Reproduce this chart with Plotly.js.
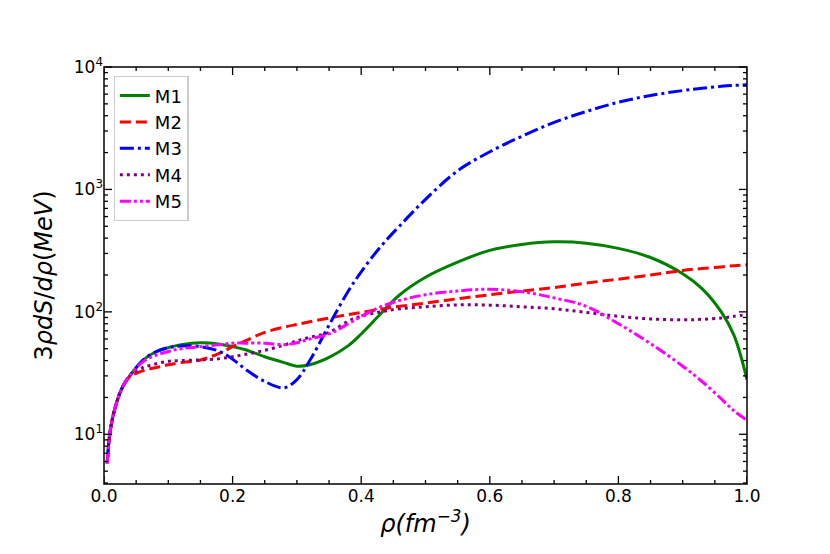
<!DOCTYPE html>
<html>
<head>
<meta charset="utf-8">
<script src="https://cdn.plot.ly/plotly-3.0.1.min.js"></script>
<style>
  body { margin: 0; background: #fff; }
  #chart { width: 830px; height: 554px; }
</style>
</head>
<body>
<div id="chart"></div>
<script>
// density grid (fm^-3)
var rho = [0.005, 0.01, 0.02, 0.03, 0.04, 0.06, 0.08, 0.1, 0.12, 0.15, 0.18, 0.2, 0.22, 0.25, 0.28, 0.3, 0.32,
           0.35, 0.38, 0.4, 0.43, 0.46, 0.5, 0.55, 0.6, 0.65, 0.7, 0.75, 0.8, 0.85, 0.9, 0.93, 0.96, 0.98, 1.0];

// 3 rho dS/drho (MeV)
var m1 = [5.8, 11, 18.5, 25, 30, 40, 47, 51, 54, 56, 54.5, 52, 49, 43, 38.5, 36, 37,
          42.5, 53, 66, 96, 138, 192, 255, 318, 355, 373, 364, 330, 278, 205, 155, 100, 64, 28];
var m2 = [5.8, 11, 18.5, 25, 29.5, 33, 35, 37, 38.5, 40.5, 46, 52, 58, 68, 75, 79, 83,
          89, 95, 99, 105, 111, 118, 128, 138, 148, 158, 172, 185, 200, 218, 226, 233, 238, 242];
var m3 = [5.8, 11, 18.5, 25, 30, 40, 47, 51, 52.7, 52, 47.5, 41, 34, 27, 24, 28, 40,
          78, 148, 212, 340, 505, 830, 1420, 2030, 2720, 3530, 4330, 5150, 5850, 6420, 6700, 6950, 7070, 7150];
var m4 = [5.8, 11, 18.5, 25, 30, 35, 37.5, 39.5, 40, 40.5, 41.5, 43, 45, 48.5, 53.5, 58, 62,
          68, 84, 92, 100, 106, 110, 114, 113.5, 110, 106, 99, 92, 87.5, 86, 87, 89, 92, 95];
var m5 = [5.8, 11, 18.5, 25, 30, 39, 44, 47.5, 50, 52, 54, 55.5, 55.5, 55.5, 54, 56, 60,
          66, 80, 92, 110, 124, 138, 148, 153, 146, 130, 111, 80, 55, 36, 27, 19.5, 15.5, 13];

var names = ['M1', 'M2', 'M3', 'M4', 'M5'];
var series = [m1, m2, m3, m4, m5];
var colors = ['#008000', '#ff0000', '#0000ff', '#800080', '#ff00ff'];
var dashes = ['solid', '11px,5px', '14px,4px,3px,4px', '3px,4px', '11px,3px,3px,3px,3px,3px'];

var traces = series.map(function (ys, i) {
  return {
    x: rho,
    y: ys,
    name: names[i],
    type: 'scatter',
    mode: 'lines',
    line: { color: colors[i], width: 3, dash: dashes[i], shape: 'spline', smoothing: 1 }
  };
});

var yRange = [0.594, 4.0];

// tick marks on all four sides, pointing in (drawn as shapes so they show on every edge)
var shapes = [];
function tickLine(ref, v, side, len) {
  var s = { type: 'line', layer: 'above', line: { color: '#000', width: 1.3 } };
  if (side === 'bottom' || side === 'top') {
    s.xref = 'x'; s.x0 = v; s.x1 = v;
    s.yref = 'paper'; s.ysizemode = 'pixel';
    s.yanchor = side === 'bottom' ? 0 : 1;
    s.y0 = 0; s.y1 = side === 'bottom' ? len : -len;
  } else {
    var f = (Math.log10(v) - yRange[0]) / (yRange[1] - yRange[0]);
    s.yref = 'paper'; s.y0 = f; s.y1 = f;
    s.xref = 'paper'; s.xsizemode = 'pixel';
    s.xanchor = side === 'left' ? 0 : 1;
    s.x0 = 0; s.x1 = side === 'left' ? len : -len;
  }
  shapes.push(s);
}
for (var k = 0; k <= 20; k++) {
  var xv = k * 0.05;
  var len = (k % 4 === 0) ? 8 : 4;
  tickLine('x', xv, 'bottom', len);
  tickLine('x', xv, 'top', len);
}
[1, 10, 100, 1000].forEach(function (d) {
  for (var j = 1; j <= 9; j++) {
    var v = j * d;
    if (Math.log10(v) < yRange[0] - 1e-9) continue;
    var l = (j === 1) ? 8 : 4;
    tickLine('y', v, 'left', l);
    tickLine('y', v, 'right', l);
  }
});
tickLine('y', 10000, 'left', 8);
tickLine('y', 10000, 'right', 8);
// frame
shapes.push({ type: 'rect', xref: 'paper', yref: 'paper', x0: 0, x1: 1, y0: 0, y1: 1,
              layer: 'above', line: { color: '#000', width: 1.5 } });

var font = 'DejaVu Sans, sans-serif';

var layout = {
  width: 830,
  height: 554,
  margin: { l: 103.5, r: 83.3, t: 67, b: 70 },
  paper_bgcolor: '#fff',
  plot_bgcolor: '#fff',
  font: { family: font, size: 17, color: '#000' },
  showlegend: true,
  legend: {
    x: 0.015, y: 0.978, xanchor: 'left', yanchor: 'top',
    bgcolor: '#fff', bordercolor: '#cccccc', borderwidth: 1.2,
    font: { family: font, size: 18, color: '#000' }
  },
  shapes: shapes,
  xaxis: {
    range: [0, 1], dtick: 0.2, tickformat: '.1f',
    ticks: '', showline: false,
    showgrid: false, zeroline: false,
    tickfont: { family: font, size: 17 },
    title: { text: '<i>ρ(fm<sup>−3</sup>)</i>', font: { family: font, size: 24 }, standoff: 10 }
  },
  yaxis: {
    type: 'log', range: yRange,
    tickmode: 'array',
    tickvals: [10, 100, 1000, 10000],
    ticktext: ['10<sup>1</sup>', '10<sup>2</sup>', '10<sup>3</sup>', '10<sup>4</sup>'],
    ticks: '', showline: false,
    showgrid: false, zeroline: false,
    tickfont: { family: font, size: 17 },
    title: { text: '3<i>ρ</i><i>dS</i>/<i>dρ</i>(<i>MeV</i>)', font: { family: font, size: 24 }, standoff: 14 }
  }
};

Plotly.newPlot('chart', traces, layout, { displayModeBar: false, staticPlot: true });
</script>
</body>
</html>
